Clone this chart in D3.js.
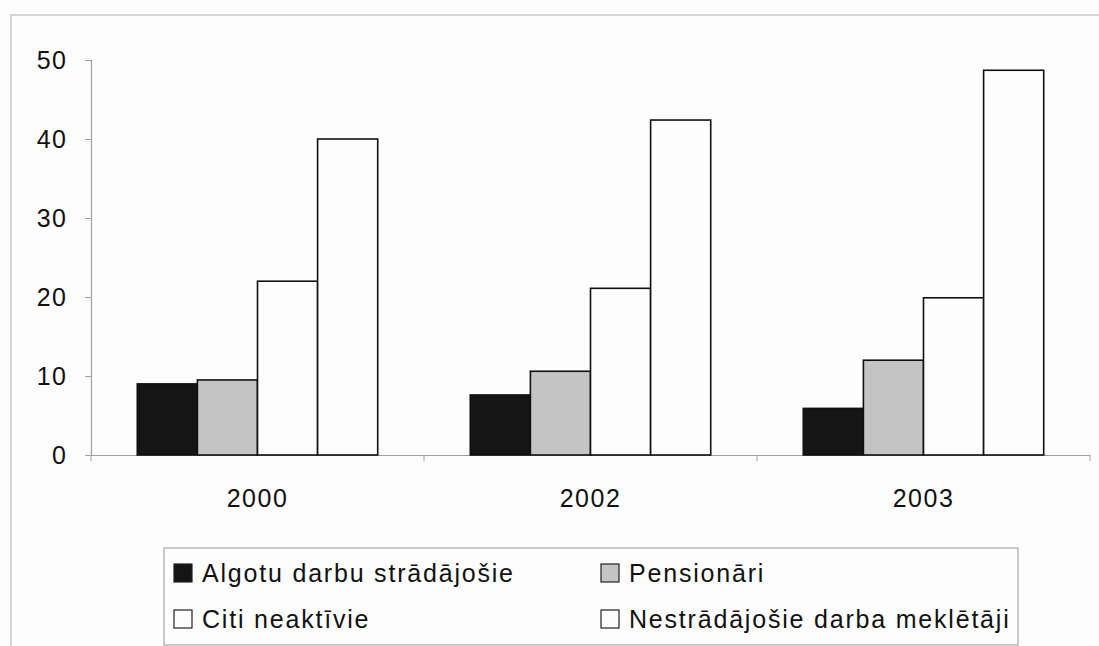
<!DOCTYPE html>
<html><head><meta charset="utf-8">
<script src="https://cdn.jsdelivr.net/npm/d3@7"></script>
<style>
html,body{margin:0;padding:0;background:#fdfdfd;}
svg{display:block;}
text{font-family:"Liberation Sans",Arial,sans-serif;fill:#111;}
</style></head>
<body><svg id="c" width="1099" height="646"></svg>
<script>
const categories = ["2000", "2002", "2003"];
const seriesNames = ["Algotu darbu strādājošie", "Pensionāri", "Citi neaktīvie", "Nestrādājošie darba meklētāji"];
const algotu = [9.0, 7.6, 5.9];
const pensionari = [9.5, 10.6, 12.0];
const citi = [22.0, 21.1, 19.9];
const nestradajosie = [40.0, 42.4, 48.7];
const yTicks = [0, 10, 20, 30, 40, 50];
const seriesValues = [algotu, pensionari, citi, nestradajosie];
const fills = ["#151515", "#c4c4c4", "#fdfdfd", "#fdfdfd"];

const svg = d3.select("#c");
// outer chart frame
svg.append("rect").attr("x", 11).attr("y", 15).attr("width", 1100).attr("height", 640)
  .attr("fill", "#fdfdfd").attr("stroke", "#c8c8c8").attr("stroke-width", 1.5);

const plotL = 91, plotR = 1090, plotT = 60, plotB = 455;
const x0 = d3.scaleBand().domain(categories).range([plotL, plotR]).padding(0);
const gap = x0.bandwidth() * 0.139;
const x1 = d3.scaleBand().domain(seriesNames).range([gap, x0.bandwidth() - gap]).padding(0);
const y = d3.scaleLinear().domain([0, 50]).range([plotB, plotT]);

// y axis
const yAxis = svg.append("g").attr("transform", `translate(${plotL},0)`)
  .call(d3.axisLeft(y).tickValues(yTicks).tickSize(6).tickPadding(18));
yAxis.select(".domain").attr("stroke", "#a0a0a0").attr("stroke-width", 1.2);
yAxis.selectAll(".tick line").attr("stroke", "#a0a0a0");
yAxis.selectAll(".tick text").attr("font-size", 25).attr("letter-spacing", "1.2px")
  .attr("font-family", "Liberation Sans, Arial, sans-serif").attr("fill", "#111");

// x axis
const xAxis = svg.append("g").attr("transform", `translate(0,${plotB})`)
  .call(d3.axisBottom(x0).tickSize(0).tickPadding(34));
xAxis.select(".domain").attr("stroke", "#a0a0a0").attr("stroke-width", 1.2);
xAxis.selectAll(".tick text").attr("font-size", 25).attr("letter-spacing", "1.5px")
  .attr("font-family", "Liberation Sans, Arial, sans-serif").attr("fill", "#111");
const bounds = categories.map(c => x0(c)).concat([x0(categories[categories.length-1]) + x0.bandwidth()]);
xAxis.selectAll(".sep").data(bounds).join("line").attr("class", "sep")
  .attr("x1", d => d).attr("x2", d => d).attr("y1", 0).attr("y2", 6).attr("stroke", "#a0a0a0");

// bars
const groups = svg.append("g").selectAll("g").data(categories).join("g")
  .attr("transform", d => `translate(${x0(d)},0)`);
groups.selectAll("rect").data((c, ci) => seriesNames.map((s, si) => ({s, si, v: seriesValues[si][ci]})))
  .join("rect")
  .attr("x", d => x1(d.s)).attr("width", x1.bandwidth())
  .attr("y", d => y(d.v)).attr("height", d => y(0) - y(d.v))
  .attr("fill", d => fills[d.si]).attr("stroke", "#111").attr("stroke-width", 1.6);

// legend
const lg = svg.append("g");
lg.append("rect").attr("x", 164).attr("y", 548).attr("width", 854).attr("height", 97)
  .attr("fill", "#fdfdfd").attr("stroke", "#a8a8a8").attr("stroke-width", 1.2);
const legPos = [[174, 564], [601, 564], [174, 610], [601, 610]];
seriesNames.forEach((s, i) => {
  const [lx, ly] = legPos[i];
  lg.append("rect").attr("x", lx).attr("y", ly).attr("width", 18).attr("height", 18)
    .attr("fill", fills[i]).attr("stroke", "#222").attr("stroke-width", 1.2);
  lg.append("text").attr("x", lx + 28).attr("y", ly + 9).attr("dy", "0.35em")
    .attr("font-size", 25).attr("letter-spacing", "1.8px").text(s);
});
</script></body></html>
